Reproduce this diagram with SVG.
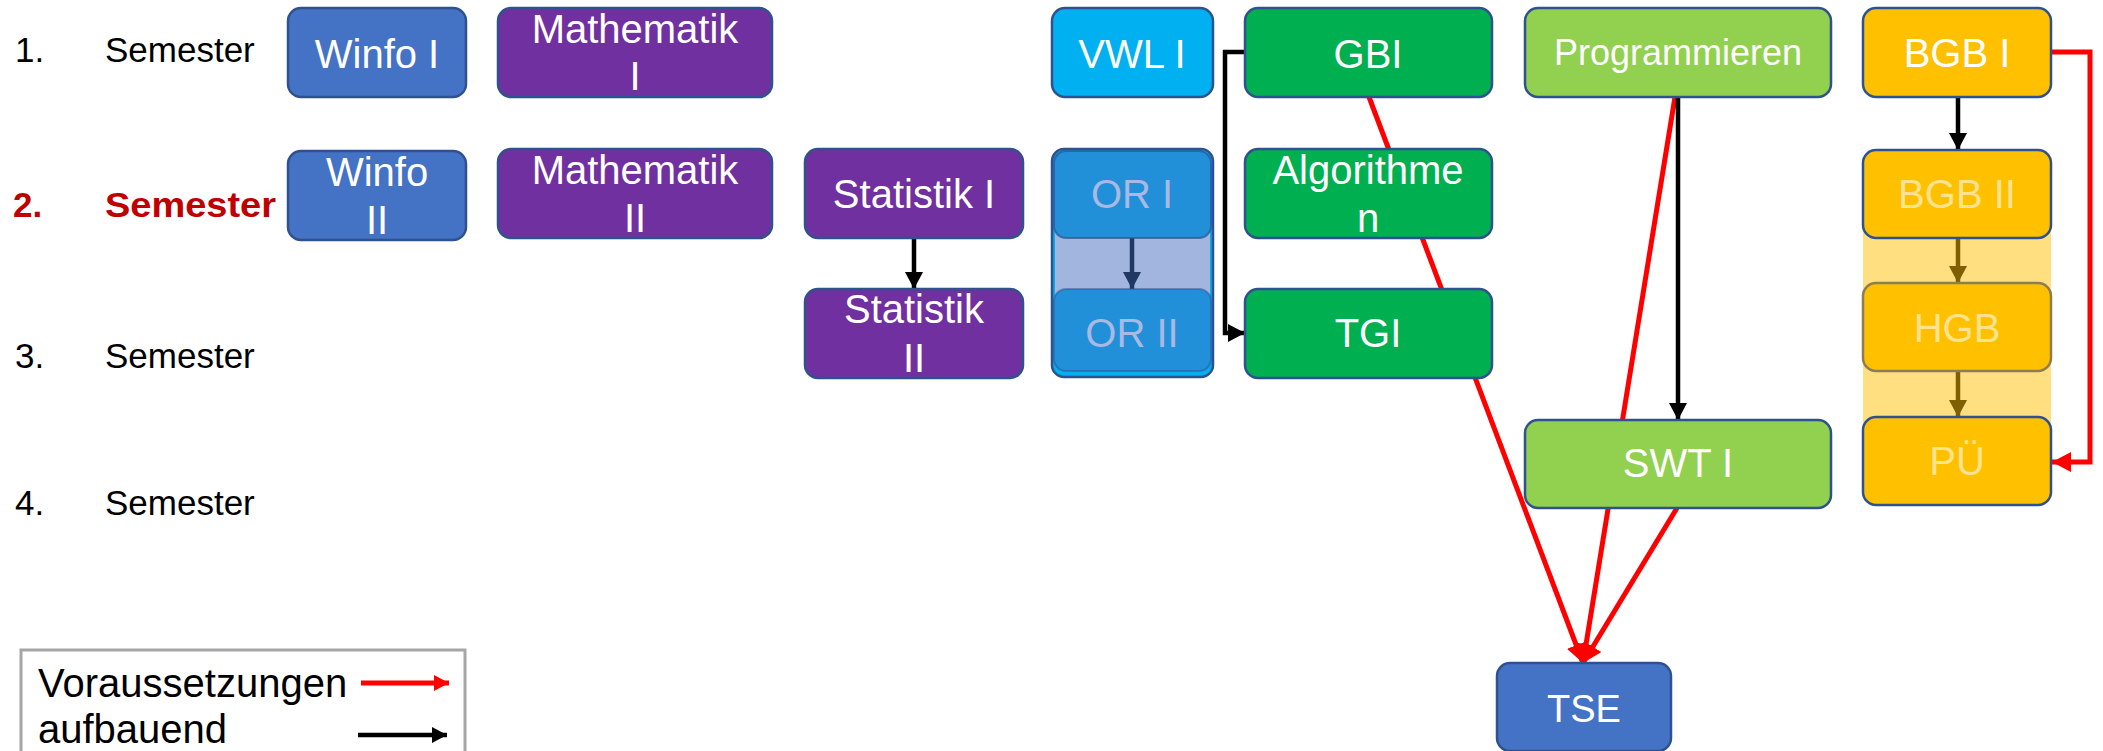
<svg xmlns="http://www.w3.org/2000/svg" width="2103" height="751" viewBox="0 0 2103 751">
<defs>
<style>
text{font-family:"Liberation Sans",Arial,sans-serif}
.lbl{font-size:35px;fill:#000}
.lblb{font-size:35px;fill:#c00000;font-weight:bold}
.t{font-size:40px;fill:#fff;text-anchor:middle}
.tor{font-size:40px;fill:#a9b9e2;text-anchor:middle}
.tbg{font-size:40px;fill:#ffe38f;text-anchor:middle}
.box{stroke:#2f528f;stroke-width:2.5}
.blue{fill:#4472c4}.purple{fill:#7030a0}.cyan{fill:#00b0f0}.green{fill:#00b050}.lgreen{fill:#92d050}.yellow{fill:#ffc000}
.blk{stroke:#000;stroke-width:4.5;fill:none}
.red{stroke:#ff0000;stroke-width:5;fill:none}
.navy{stroke:#1f3864;stroke-width:4.5;fill:none}
.brown{stroke:#7f6000;stroke-width:4.5;fill:none}
</style>
<marker id="ab" markerUnits="userSpaceOnUse" markerWidth="18" markerHeight="18" refX="17" refY="9" orient="auto"><path d="M0,0 L17,9 L0,18 z" fill="#000"/></marker>
<marker id="an" markerUnits="userSpaceOnUse" markerWidth="18" markerHeight="18" refX="17" refY="9" orient="auto"><path d="M0,0 L17,9 L0,18 z" fill="#1f3864"/></marker>
<marker id="abr" markerUnits="userSpaceOnUse" markerWidth="18" markerHeight="18" refX="17" refY="9" orient="auto"><path d="M0,0 L17,9 L0,18 z" fill="#7f6000"/></marker>
<marker id="ar" markerUnits="userSpaceOnUse" markerWidth="20" markerHeight="20" refX="19" refY="10" orient="auto"><path d="M0,0 L19,10 L0,20 z" fill="#ff0000"/></marker>
<marker id="arl" markerUnits="userSpaceOnUse" markerWidth="16" markerHeight="16" refX="15" refY="8" orient="auto"><path d="M0,0 L15,8 L0,16 z" fill="#ff0000"/></marker>
<marker id="abl" markerUnits="userSpaceOnUse" markerWidth="16" markerHeight="16" refX="15" refY="8" orient="auto"><path d="M0,0 L15,8 L0,16 z" fill="#000"/></marker>
</defs>
<rect width="2103" height="751" fill="#fff"/>

<g id="semester-labels">
<text class="lbl" x="15" y="62">1.</text><text class="lbl" x="105" y="62">Semester</text>
<text class="lblb" x="13" y="217">2.</text><text class="lblb" x="105" y="217" textLength="171" lengthAdjust="spacingAndGlyphs">Semester</text>
<text class="lbl" x="15" y="368">3.</text><text class="lbl" x="105" y="368">Semester</text>
<text class="lbl" x="15" y="515">4.</text><text class="lbl" x="105" y="515">Semester</text>
</g>

<g id="group-backgrounds">
<rect x="1052" y="149" width="161" height="228" rx="12" fill="#00b0f0" stroke="#2f528f" stroke-width="2.5"/>
<rect x="1055" y="225" width="155" height="72" fill="#a2b5df"/>
<rect x="1863" y="194" width="188" height="268" fill="#ffdf80"/>
</g>

<g id="connectors">
<line class="blk" x1="914" y1="239" x2="914" y2="289" marker-end="url(#ab)"/>
<line class="navy" x1="1132" y1="238" x2="1132" y2="289" marker-end="url(#an)"/>
<path class="blk" d="M1245,52 H1225 V333 H1245" marker-end="url(#ab)"/>
<line class="red" x1="1369" y1="97" x2="1583" y2="663" marker-end="url(#ar)"/>
<line class="red" x1="1675" y1="97" x2="1583" y2="663" marker-end="url(#ar)"/>
<line class="red" x1="1677" y1="508" x2="1583" y2="663" marker-end="url(#ar)"/>
<line class="blk" x1="1678" y1="97" x2="1678" y2="420" marker-end="url(#ab)"/>
<line class="blk" x1="1958" y1="97" x2="1958" y2="150" marker-end="url(#ab)"/>
<line class="brown" x1="1958" y1="238" x2="1958" y2="283" marker-end="url(#abr)"/>
<line class="brown" x1="1958" y1="371" x2="1958" y2="417" marker-end="url(#abr)"/>
<path class="red" d="M2051,52 H2090 V462 H2052" marker-end="url(#ar)"/>
</g>

<g id="node-winfo1"><rect class="box blue" x="288" y="8" width="178" height="89" rx="13"/><text class="t" x="377" y="68">Winfo I</text></g>
<g id="node-mathe1"><rect class="box purple" x="498" y="8" width="274" height="89" rx="13"/><text class="t" x="635" y="43">Mathematik</text><text class="t" x="635" y="90">I</text></g>
<g id="node-vwl1"><rect class="box cyan" x="1052" y="8" width="161" height="89" rx="13"/><text class="t" x="1132" y="68">VWL I</text></g>
<g id="node-gbi"><rect class="box green" x="1245" y="8" width="247" height="89" rx="13"/><text class="t" x="1368" y="68">GBI</text></g>
<g id="node-prog"><rect class="box lgreen" x="1525" y="8" width="306" height="89" rx="13"/><text class="t" x="1678" y="65" style="font-size:36px">Programmieren</text></g>
<g id="node-bgb1"><rect class="box yellow" x="1863" y="8" width="188" height="89" rx="13"/><text class="t" x="1957" y="67">BGB I</text></g>

<g id="node-winfo2"><rect class="box blue" x="288" y="151" width="178" height="89" rx="13"/><text class="t" x="377" y="186">Winfo</text><text class="t" x="377" y="234">II</text></g>
<g id="node-mathe2"><rect class="box purple" x="498" y="149" width="274" height="89" rx="13"/><text class="t" x="635" y="184">Mathematik</text><text class="t" x="635" y="232">II</text></g>
<g id="node-stat1"><rect class="box purple" x="805" y="149" width="218" height="89" rx="13"/><text class="t" x="914" y="208">Statistik I</text></g>
<g id="node-or1"><rect x="1054" y="151" width="157" height="87" rx="12" fill="#2190d8" stroke="#2f528f" stroke-width="2" stroke-opacity="0.7"/><text class="tor" x="1132" y="208">OR I</text></g>
<g id="node-algo"><rect class="box green" x="1245" y="149" width="247" height="89" rx="13"/><text class="t" x="1368" y="184">Algorithme</text><text class="t" x="1368" y="232">n</text></g>
<g id="node-bgb2"><rect x="1863" y="150" width="188" height="88" rx="13" fill="#ffc000" stroke="#2f528f" stroke-width="2.5"/><text class="tbg" x="1957" y="208">BGB II</text></g>

<g id="node-stat2"><rect class="box purple" x="805" y="289" width="218" height="89" rx="13"/><text class="t" x="914" y="323">Statistik</text><text class="t" x="914" y="372">II</text></g>
<g id="node-or2"><rect x="1054" y="289" width="157" height="82" rx="12" fill="#2190d8" stroke="#2f528f" stroke-width="2" stroke-opacity="0.5"/><text class="tor" x="1132" y="347">OR II</text></g>
<g id="node-tgi"><rect class="box green" x="1245" y="289" width="247" height="89" rx="13"/><text class="t" x="1368" y="347">TGI</text></g>
<g id="node-hgb"><rect x="1863" y="283" width="188" height="88" rx="13" fill="#ffc000" stroke="#8c7d55" stroke-width="2.5"/><text class="tbg" x="1957" y="342">HGB</text></g>

<g id="node-swt1"><rect class="box lgreen" x="1525" y="420" width="306" height="88" rx="13"/><text class="t" x="1678" y="477">SWT I</text></g>
<g id="node-pue"><rect x="1863" y="417" width="188" height="88" rx="13" fill="#ffc000" stroke="#2f528f" stroke-width="2.5"/><text class="tbg" x="1957" y="475">PÜ</text></g>

<g id="node-tse"><rect class="box blue" x="1497" y="663" width="174" height="88" rx="13"/><text class="t" x="1584" y="722" style="font-size:38px">TSE</text></g>

<g id="legend">
<rect x="21" y="650" width="444" height="115" fill="#fff" stroke="#a6a6a6" stroke-width="3"/>
<text x="38" y="697" style="font-size:40px">Voraussetzungen</text>
<text x="38" y="743" style="font-size:40px">aufbauend</text>
<line class="red" x1="361" y1="683" x2="449" y2="683" marker-end="url(#arl)"/>
<line class="blk" x1="358" y1="735" x2="447" y2="735" marker-end="url(#abl)"/>
</g>
</svg>
